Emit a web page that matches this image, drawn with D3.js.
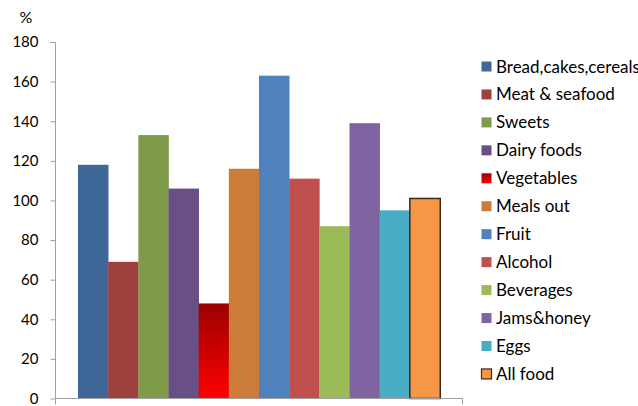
<!DOCTYPE html>
<html><head><meta charset="utf-8">
<script src="https://cdn.jsdelivr.net/npm/d3@7"></script>
<style>body{margin:0;background:#fff;}svg{display:block;font-family:Lato,"Open Sans",sans-serif;}</style>
</head><body><svg id="c" width="638" height="406"></svg>
<script>
const categories = ["Bread,cakes,cereals","Meat & seafood","Sweets","Dairy foods","Vegetables","Meals out","Fruit","Alcohol","Beverages","Jams&honey","Eggs","All food"];
const values = [118,69,133,106,48,116,163,111,87,139,95,101];
const colors = ["#3f6898","#9e413e","#7f9a48","#684f86","url(#vegGrad)","#cc7b38","#4f81bd","#c0504d","#9bbb59","#8064a2","#4bacc6","#f79646"];
const legendColors = ["#3f6898","#9e413e","#7f9a48","#684f86","url(#vegGradL)","#cc7b38","#4f81bd","#c0504d","#9bbb59","#8064a2","#4bacc6","#f79646"];
const yTicks = [0,20,40,60,80,100,120,140,160,180];

const svg = d3.select("#c");
const defs = svg.append("defs");
["vegGrad","vegGradL"].forEach(id=>{
  const g = defs.append("linearGradient").attr("id",id).attr("x1",0).attr("y1",0).attr("x2",0).attr("y2",1);
  g.append("stop").attr("offset","0%").attr("stop-color","#9c0000");
  g.append("stop").attr("offset","100%").attr("stop-color","#ff0000");
});

const x0 = 55.5, x1 = 462.5, yTop = 42, yBot = 398.5;
const y = d3.scaleLinear().domain([0,180]).range([yBot,yTop]);
const x = d3.scaleBand().domain(categories).range([78,440]).padding(0);

// bars
svg.append("g").selectAll("rect").data(categories).join("rect")
  .attr("x",d=>x(d)).attr("width",x.bandwidth()+0.3)
  .attr("y",(d,i)=>y(values[i])).attr("height",(d,i)=>yBot-y(values[i]))
  .attr("fill",(d,i)=>colors[i])
  .attr("stroke",(d,i)=>i===11?"#3a2a1a":"none")
  .attr("stroke-width",(d,i)=>i===11?1.5:0);

// y axis
const ya = svg.append("g").attr("transform",`translate(${x0},0)`)
  .call(d3.axisLeft(y).tickValues(yTicks).tickSize(5).tickPadding(12));
ya.select(".domain").attr("stroke","#a0a0a0").attr("d",`M-5,${yTop}.5H0V${yBot}`);
ya.selectAll(".tick line").attr("stroke","#a0a0a0");
ya.selectAll(".tick text").attr("fill","#000").attr("font-size",15).attr("font-family","Lato");

// x axis
svg.append("path").attr("d",`M${x0},${yBot}H${x1}M${x0},${yBot}V${yBot+6}M${x1},${yBot}V${yBot+6}`)
  .attr("stroke","#a0a0a0").attr("fill","none");

svg.append("text").attr("x",26).attr("y",23).attr("text-anchor","middle").attr("font-size",16).text("%");

// legend
const lg = svg.append("g").selectAll("g").data(categories).join("g")
  .attr("transform",(d,i)=>`translate(481.5,${66.5+i*27.95})`);
lg.append("rect").attr("x",0).attr("y",-5).attr("width",10).attr("height",10)
  .attr("fill",(d,i)=>legendColors[i])
  .attr("stroke",(d,i)=>i===11?"#3a2a1a":"none").attr("stroke-width",1.2);
lg.append("text").attr("x",14.5).attr("y",6).attr("font-size",17).attr("fill","#000").text(d=>d);
</script></body></html>
